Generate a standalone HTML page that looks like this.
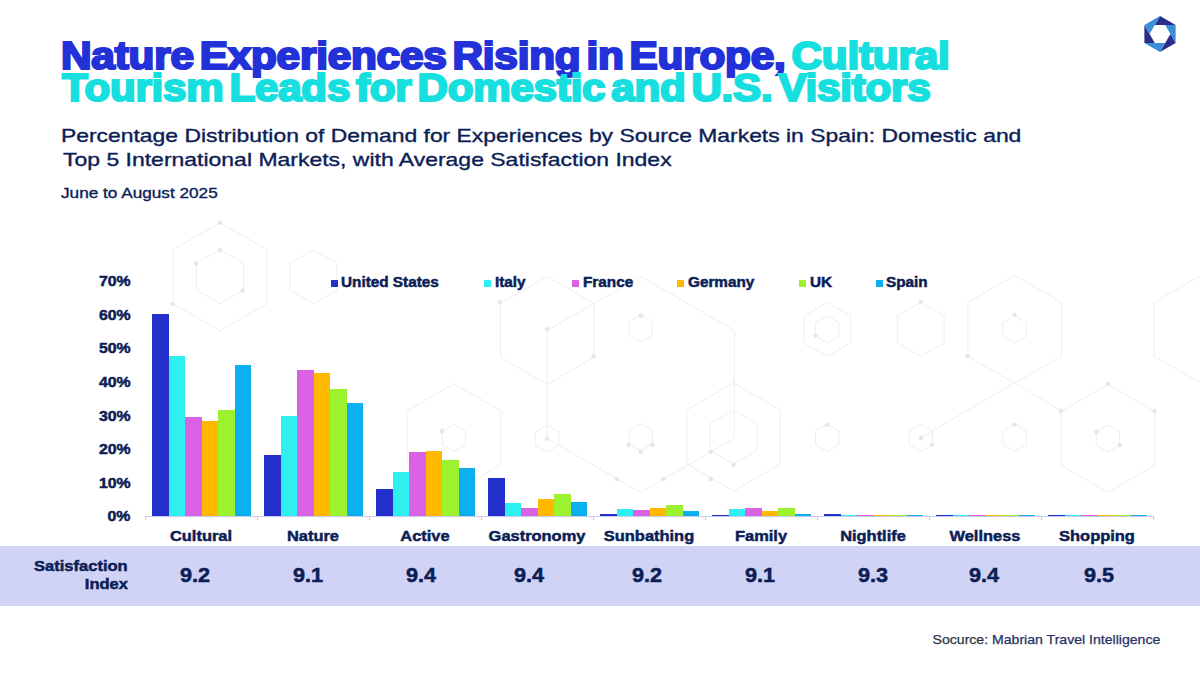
<!DOCTYPE html>
<html><head><meta charset="utf-8"><title>Chart</title>
<style>
html,body{margin:0;padding:0;}
body{width:1200px;height:675px;position:relative;overflow:hidden;background:#ffffff;font-family:"Liberation Sans",sans-serif;}
.t{position:absolute;white-space:nowrap;}
.b{position:absolute;}
</style></head><body>
<svg class="b" style="left:0;top:0" width="1200" height="675"><g fill="none" stroke="#eeeeee" stroke-width="1"><polygon points="1014.7,275.3 1061.5,302.3 1061.5,356.3 1014.7,383.3 967.9,356.3 967.9,302.3"/><polygon points="1014.7,315.8 1026.4,322.6 1026.4,336.1 1014.7,342.8 1003.0,336.1 1003.0,322.6"/><polygon points="827.3,302.3 850.7,315.8 850.7,342.8 827.3,356.3 803.9,342.8 803.9,315.8"/><polygon points="827.3,315.8 839.0,322.6 839.0,336.1 827.3,342.8 815.6,336.1 815.6,322.6"/><polygon points="920.8,302.3 944.2,315.8 944.2,342.8 920.8,356.3 897.4,342.8 897.4,315.8"/><polygon points="1201.0,275.3 1247.8,302.3 1247.8,356.3 1201.0,383.3 1154.2,356.3 1154.2,302.3"/><polygon points="1107.9,384.4 1154.7,411.4 1154.7,465.4 1107.9,492.4 1061.1,465.4 1061.1,411.4"/><polygon points="1107.9,424.9 1119.6,431.6 1119.6,445.1 1107.9,451.9 1096.2,445.1 1096.2,431.6"/><polygon points="1014.7,424.3 1026.4,431.1 1026.4,444.6 1014.7,451.3 1003.0,444.6 1003.0,431.1"/><polygon points="920.8,424.3 932.5,431.1 932.5,444.6 920.8,451.3 909.1,444.6 909.1,431.1"/><polygon points="827.3,424.3 839.0,431.1 839.0,444.6 827.3,451.3 815.6,444.6 815.6,431.1"/><polygon points="220.0,222.7 266.8,249.7 266.8,303.7 220.0,330.7 173.2,303.7 173.2,249.7"/><polygon points="220.0,249.7 243.4,263.2 243.4,290.2 220.0,303.7 196.6,290.2 196.6,263.2"/><polygon points="313.3,249.7 336.7,263.2 336.7,290.2 313.3,303.7 289.9,290.2 289.9,263.2"/><polygon points="453.9,383.8 500.7,410.8 500.7,464.8 453.9,491.8 407.1,464.8 407.1,410.8"/><polygon points="453.9,424.3 465.6,431.1 465.6,444.6 453.9,451.3 442.2,444.6 442.2,431.1"/><polygon points="547.2,276.4 594.0,303.4 594.0,357.4 547.2,384.4 500.5,357.4 500.5,303.4"/><polygon points="640.8,276.5 734.3,330.5 734.3,438.5 640.8,492.5 547.2,438.5 547.2,330.5"/><polygon points="640.8,315.0 652.4,321.8 652.4,335.2 640.8,342.0 629.1,335.2 629.1,321.8"/><polygon points="640.8,423.5 652.4,430.2 652.4,443.8 640.8,450.5 629.1,443.8 629.1,430.2"/><polygon points="547.0,425.2 558.7,432.0 558.7,445.5 547.0,452.2 535.3,445.5 535.3,432.0"/><polygon points="733.5,383.0 780.3,410.0 780.3,464.0 733.5,491.0 686.7,464.0 686.7,410.0"/><polygon points="733.5,410.0 756.9,423.5 756.9,450.5 733.5,464.0 710.1,450.5 710.1,423.5"/><line x1="1014.7" y1="382.7" x2="1061" y2="411"/><line x1="1014.7" y1="382.7" x2="920.8" y2="437.8"/></g><g fill="#e6e6e6"><circle cx="815.6" cy="335.7" r="2.2"/><circle cx="920.8" cy="302" r="2.2"/><circle cx="1014.7" cy="315" r="2.2"/><circle cx="967.4" cy="356" r="2.2"/><circle cx="1061" cy="411" r="2.2"/><circle cx="1154.5" cy="411" r="2.2"/><circle cx="1107.9" cy="383.8" r="2.2"/><circle cx="1096.5" cy="431.8" r="2.2"/><circle cx="1119.6" cy="445" r="2.2"/><circle cx="1014.7" cy="424.6" r="2.2"/><circle cx="920.8" cy="437.8" r="2.2"/><circle cx="932" cy="445" r="2.2"/><circle cx="827.3" cy="424.6" r="2.2"/><circle cx="220" cy="222.7" r="2.2"/><circle cx="172.7" cy="304" r="2.2"/><circle cx="196" cy="263.3" r="2.2"/><circle cx="242.7" cy="290.7" r="2.2"/><circle cx="220" cy="250" r="2.2"/><circle cx="442" cy="431" r="2.2"/><circle cx="500" cy="302" r="2.2"/><circle cx="547" cy="329" r="2.2"/><circle cx="593.5" cy="356.5" r="2.2"/><circle cx="640.75" cy="315.5" r="2.2"/><circle cx="628.5" cy="445" r="2.2"/><circle cx="652.3" cy="445" r="2.2"/><circle cx="640.75" cy="451.7" r="2.2"/><circle cx="710.75" cy="451.7" r="2.2"/><circle cx="733.5" cy="465" r="2.2"/><circle cx="710.75" cy="479" r="2.2"/><circle cx="663.5" cy="479" r="2.2"/><circle cx="617" cy="479" r="2.2"/><circle cx="547" cy="438.75" r="2.2"/></g></svg>
<div class="t" style="left:60.50px;top:37.03px;font-size:38px;line-height:38px;font-weight:bold;color:#2232d8;transform:scaleX(1.1135);transform-origin:left top;letter-spacing:-0.2px;word-spacing:-5px;-webkit-text-stroke:2.2px #2232d8;">Nature Experiences Rising in Europe, <span style="color:#17dfe0;-webkit-text-stroke:2.2px #17dfe0">Cultural</span></div>
<div class="t" style="left:61.50px;top:69.03px;font-size:38px;line-height:38px;font-weight:bold;color:#17dfe0;transform:scaleX(1.1086);transform-origin:left top;letter-spacing:-0.2px;word-spacing:-5px;-webkit-text-stroke:2.2px #17dfe0;">Tourism Leads for Domestic and U.S. Visitors</div>
<div class="t" style="left:61.00px;top:127.04px;font-size:18.5px;line-height:18.5px;font-weight:normal;color:#0c1e56;transform:scaleX(1.237);transform-origin:left top;-webkit-text-stroke:0.35px #0c1e56;">Percentage Distribution of Demand for Experiences by Source Markets in Spain: Domestic and</div>
<div class="t" style="left:63.00px;top:150.74px;font-size:18.5px;line-height:18.5px;font-weight:normal;color:#0c1e56;transform:scaleX(1.2416);transform-origin:left top;-webkit-text-stroke:0.35px #0c1e56;">Top 5 International Markets, with Average Satisfaction Index</div>
<div class="t" style="left:61.00px;top:186.23px;font-size:14.5px;line-height:14.5px;font-weight:normal;color:#0c1e56;transform:scaleX(1.185);transform-origin:left top;-webkit-text-stroke:0.35px #0c1e56;">June to August 2025</div>
<div class="b" style="left:331px;top:279.5px;width:7px;height:7.5px;background:#2430cc"></div>
<div class="t" style="left:341.20px;top:274.73px;font-size:14.5px;line-height:14.5px;font-weight:bold;color:#0c1e56;transform:scaleX(1.055);transform-origin:left top;-webkit-text-stroke:0.5px #0c1e56;">United States</div>
<div class="b" style="left:484px;top:279.5px;width:7px;height:7.5px;background:#2ef0f0"></div>
<div class="t" style="left:495.20px;top:274.73px;font-size:14.5px;line-height:14.5px;font-weight:bold;color:#0c1e56;transform:scaleX(1.055);transform-origin:left top;-webkit-text-stroke:0.5px #0c1e56;">Italy</div>
<div class="b" style="left:572px;top:279.5px;width:7px;height:7.5px;background:#da62e3"></div>
<div class="t" style="left:582.60px;top:274.73px;font-size:14.5px;line-height:14.5px;font-weight:bold;color:#0c1e56;transform:scaleX(1.055);transform-origin:left top;-webkit-text-stroke:0.5px #0c1e56;">France</div>
<div class="b" style="left:677px;top:279.5px;width:7px;height:7.5px;background:#ffb800"></div>
<div class="t" style="left:687.60px;top:274.73px;font-size:14.5px;line-height:14.5px;font-weight:bold;color:#0c1e56;transform:scaleX(1.055);transform-origin:left top;-webkit-text-stroke:0.5px #0c1e56;">Germany</div>
<div class="b" style="left:799px;top:279.5px;width:7px;height:7.5px;background:#9cf22e"></div>
<div class="t" style="left:809.60px;top:274.73px;font-size:14.5px;line-height:14.5px;font-weight:bold;color:#0c1e56;transform:scaleX(1.055);transform-origin:left top;-webkit-text-stroke:0.5px #0c1e56;">UK</div>
<div class="b" style="left:876px;top:279.5px;width:7px;height:7.5px;background:#0db0ee"></div>
<div class="t" style="left:886.20px;top:274.73px;font-size:14.5px;line-height:14.5px;font-weight:bold;color:#0c1e56;transform:scaleX(1.055);transform-origin:left top;-webkit-text-stroke:0.5px #0c1e56;">Spain</div>
<div class="t" style="right:1069.50px;top:509.47px;font-size:14.8px;line-height:14.8px;font-weight:bold;color:#0c1e56;transform:scaleX(1.07);transform-origin:right top;-webkit-text-stroke:0.5px #0c1e56;">0%</div>
<div class="t" style="right:1069.50px;top:475.83px;font-size:14.8px;line-height:14.8px;font-weight:bold;color:#0c1e56;transform:scaleX(1.07);transform-origin:right top;-webkit-text-stroke:0.5px #0c1e56;">10%</div>
<div class="t" style="right:1069.50px;top:442.19px;font-size:14.8px;line-height:14.8px;font-weight:bold;color:#0c1e56;transform:scaleX(1.07);transform-origin:right top;-webkit-text-stroke:0.5px #0c1e56;">20%</div>
<div class="t" style="right:1069.50px;top:408.55px;font-size:14.8px;line-height:14.8px;font-weight:bold;color:#0c1e56;transform:scaleX(1.07);transform-origin:right top;-webkit-text-stroke:0.5px #0c1e56;">30%</div>
<div class="t" style="right:1069.50px;top:374.91px;font-size:14.8px;line-height:14.8px;font-weight:bold;color:#0c1e56;transform:scaleX(1.07);transform-origin:right top;-webkit-text-stroke:0.5px #0c1e56;">40%</div>
<div class="t" style="right:1069.50px;top:341.27px;font-size:14.8px;line-height:14.8px;font-weight:bold;color:#0c1e56;transform:scaleX(1.07);transform-origin:right top;-webkit-text-stroke:0.5px #0c1e56;">50%</div>
<div class="t" style="right:1069.50px;top:307.63px;font-size:14.8px;line-height:14.8px;font-weight:bold;color:#0c1e56;transform:scaleX(1.07);transform-origin:right top;-webkit-text-stroke:0.5px #0c1e56;">60%</div>
<div class="t" style="right:1069.50px;top:273.99px;font-size:14.8px;line-height:14.8px;font-weight:bold;color:#0c1e56;transform:scaleX(1.07);transform-origin:right top;-webkit-text-stroke:0.5px #0c1e56;">70%</div>
<div class="b" style="left:145.0px;top:515.6px;width:1008px;height:1px;background:#c6cbec"></div>
<div class="b" style="left:144.5px;top:516px;width:1px;height:4px;background:#c6cbec"></div>
<div class="b" style="left:256.5px;top:516px;width:1px;height:4px;background:#c6cbec"></div>
<div class="b" style="left:368.5px;top:516px;width:1px;height:4px;background:#c6cbec"></div>
<div class="b" style="left:480.5px;top:516px;width:1px;height:4px;background:#c6cbec"></div>
<div class="b" style="left:592.5px;top:516px;width:1px;height:4px;background:#c6cbec"></div>
<div class="b" style="left:704.5px;top:516px;width:1px;height:4px;background:#c6cbec"></div>
<div class="b" style="left:816.5px;top:516px;width:1px;height:4px;background:#c6cbec"></div>
<div class="b" style="left:928.5px;top:516px;width:1px;height:4px;background:#c6cbec"></div>
<div class="b" style="left:1040.5px;top:516px;width:1px;height:4px;background:#c6cbec"></div>
<div class="b" style="left:1152.5px;top:516px;width:1px;height:4px;background:#c6cbec"></div>
<div class="b" style="left:152.00px;top:314.16px;width:16.5px;height:201.84px;background:#2430cc"></div>
<div class="b" style="left:168.50px;top:355.87px;width:16.5px;height:160.13px;background:#2ef0f0"></div>
<div class="b" style="left:185.00px;top:417.10px;width:16.5px;height:98.90px;background:#da62e3"></div>
<div class="b" style="left:201.50px;top:421.14px;width:16.5px;height:94.86px;background:#ffb800"></div>
<div class="b" style="left:218.00px;top:410.03px;width:16.5px;height:105.97px;background:#9cf22e"></div>
<div class="b" style="left:234.50px;top:365.29px;width:16.5px;height:150.71px;background:#0db0ee"></div>
<div class="b" style="left:264.00px;top:455.11px;width:16.5px;height:60.89px;background:#2430cc"></div>
<div class="b" style="left:280.50px;top:415.75px;width:16.5px;height:100.25px;background:#2ef0f0"></div>
<div class="b" style="left:297.00px;top:370.00px;width:16.5px;height:146.00px;background:#da62e3"></div>
<div class="b" style="left:313.50px;top:373.03px;width:16.5px;height:142.97px;background:#ffb800"></div>
<div class="b" style="left:330.00px;top:388.84px;width:16.5px;height:127.16px;background:#9cf22e"></div>
<div class="b" style="left:346.50px;top:403.31px;width:16.5px;height:112.69px;background:#0db0ee"></div>
<div class="b" style="left:376.00px;top:489.09px;width:16.5px;height:26.91px;background:#2430cc"></div>
<div class="b" style="left:392.50px;top:471.93px;width:16.5px;height:44.07px;background:#2ef0f0"></div>
<div class="b" style="left:409.00px;top:452.08px;width:16.5px;height:63.92px;background:#da62e3"></div>
<div class="b" style="left:425.50px;top:451.07px;width:16.5px;height:64.93px;background:#ffb800"></div>
<div class="b" style="left:442.00px;top:460.16px;width:16.5px;height:55.84px;background:#9cf22e"></div>
<div class="b" style="left:458.50px;top:468.23px;width:16.5px;height:47.77px;background:#0db0ee"></div>
<div class="b" style="left:488.00px;top:477.99px;width:16.5px;height:38.01px;background:#2430cc"></div>
<div class="b" style="left:504.50px;top:502.88px;width:16.5px;height:13.12px;background:#2ef0f0"></div>
<div class="b" style="left:521.00px;top:507.93px;width:16.5px;height:8.07px;background:#da62e3"></div>
<div class="b" style="left:537.50px;top:498.84px;width:16.5px;height:17.16px;background:#ffb800"></div>
<div class="b" style="left:554.00px;top:494.13px;width:16.5px;height:21.87px;background:#9cf22e"></div>
<div class="b" style="left:570.50px;top:501.87px;width:16.5px;height:14.13px;background:#0db0ee"></div>
<div class="b" style="left:600.00px;top:513.98px;width:16.5px;height:2.02px;background:#2430cc"></div>
<div class="b" style="left:616.50px;top:508.94px;width:16.5px;height:7.06px;background:#2ef0f0"></div>
<div class="b" style="left:633.00px;top:509.94px;width:16.5px;height:6.06px;background:#da62e3"></div>
<div class="b" style="left:649.50px;top:507.93px;width:16.5px;height:8.07px;background:#ffb800"></div>
<div class="b" style="left:666.00px;top:504.90px;width:16.5px;height:11.10px;background:#9cf22e"></div>
<div class="b" style="left:682.50px;top:510.95px;width:16.5px;height:5.05px;background:#0db0ee"></div>
<div class="b" style="left:712.00px;top:514.99px;width:16.5px;height:1.01px;background:#2430cc"></div>
<div class="b" style="left:728.50px;top:508.94px;width:16.5px;height:7.06px;background:#2ef0f0"></div>
<div class="b" style="left:745.00px;top:507.93px;width:16.5px;height:8.07px;background:#da62e3"></div>
<div class="b" style="left:761.50px;top:510.95px;width:16.5px;height:5.05px;background:#ffb800"></div>
<div class="b" style="left:778.00px;top:507.93px;width:16.5px;height:8.07px;background:#9cf22e"></div>
<div class="b" style="left:794.50px;top:513.98px;width:16.5px;height:2.02px;background:#0db0ee"></div>
<div class="b" style="left:824.00px;top:513.98px;width:16.5px;height:2.02px;background:#2430cc"></div>
<div class="b" style="left:840.50px;top:515.16px;width:16.5px;height:0.84px;background:#2ef0f0"></div>
<div class="b" style="left:857.00px;top:515.16px;width:16.5px;height:0.84px;background:#da62e3"></div>
<div class="b" style="left:873.50px;top:515.16px;width:16.5px;height:0.84px;background:#ffb800"></div>
<div class="b" style="left:890.00px;top:515.16px;width:16.5px;height:0.84px;background:#9cf22e"></div>
<div class="b" style="left:906.50px;top:515.16px;width:16.5px;height:0.84px;background:#0db0ee"></div>
<div class="b" style="left:936.00px;top:515.33px;width:16.5px;height:0.67px;background:#2430cc"></div>
<div class="b" style="left:952.50px;top:515.33px;width:16.5px;height:0.67px;background:#2ef0f0"></div>
<div class="b" style="left:969.00px;top:515.33px;width:16.5px;height:0.67px;background:#da62e3"></div>
<div class="b" style="left:985.50px;top:515.33px;width:16.5px;height:0.67px;background:#ffb800"></div>
<div class="b" style="left:1002.00px;top:515.33px;width:16.5px;height:0.67px;background:#9cf22e"></div>
<div class="b" style="left:1018.50px;top:515.33px;width:16.5px;height:0.67px;background:#0db0ee"></div>
<div class="b" style="left:1048.00px;top:515.33px;width:16.5px;height:0.67px;background:#2430cc"></div>
<div class="b" style="left:1064.50px;top:515.33px;width:16.5px;height:0.67px;background:#2ef0f0"></div>
<div class="b" style="left:1081.00px;top:515.33px;width:16.5px;height:0.67px;background:#da62e3"></div>
<div class="b" style="left:1097.50px;top:515.33px;width:16.5px;height:0.67px;background:#ffb800"></div>
<div class="b" style="left:1114.00px;top:515.33px;width:16.5px;height:0.67px;background:#9cf22e"></div>
<div class="b" style="left:1130.50px;top:515.33px;width:16.5px;height:0.67px;background:#0db0ee"></div>
<div class="t" style="left:-99.00px;width:600px;text-align:center;top:527.85px;font-size:15.3px;line-height:15.3px;font-weight:bold;color:#0c1e56;transform:scaleX(1.074);transform-origin:center top;-webkit-text-stroke:0.5px #0c1e56;">Cultural</div>
<div class="t" style="left:13.00px;width:600px;text-align:center;top:527.85px;font-size:15.3px;line-height:15.3px;font-weight:bold;color:#0c1e56;transform:scaleX(1.074);transform-origin:center top;-webkit-text-stroke:0.5px #0c1e56;">Nature</div>
<div class="t" style="left:125.00px;width:600px;text-align:center;top:527.85px;font-size:15.3px;line-height:15.3px;font-weight:bold;color:#0c1e56;transform:scaleX(1.074);transform-origin:center top;-webkit-text-stroke:0.5px #0c1e56;">Active</div>
<div class="t" style="left:237.00px;width:600px;text-align:center;top:527.85px;font-size:15.3px;line-height:15.3px;font-weight:bold;color:#0c1e56;transform:scaleX(1.074);transform-origin:center top;-webkit-text-stroke:0.5px #0c1e56;">Gastronomy</div>
<div class="t" style="left:349.00px;width:600px;text-align:center;top:527.85px;font-size:15.3px;line-height:15.3px;font-weight:bold;color:#0c1e56;transform:scaleX(1.074);transform-origin:center top;-webkit-text-stroke:0.5px #0c1e56;">Sunbathing</div>
<div class="t" style="left:461.00px;width:600px;text-align:center;top:527.85px;font-size:15.3px;line-height:15.3px;font-weight:bold;color:#0c1e56;transform:scaleX(1.074);transform-origin:center top;-webkit-text-stroke:0.5px #0c1e56;">Family</div>
<div class="t" style="left:573.00px;width:600px;text-align:center;top:527.85px;font-size:15.3px;line-height:15.3px;font-weight:bold;color:#0c1e56;transform:scaleX(1.074);transform-origin:center top;-webkit-text-stroke:0.5px #0c1e56;">Nightlife</div>
<div class="t" style="left:685.00px;width:600px;text-align:center;top:527.85px;font-size:15.3px;line-height:15.3px;font-weight:bold;color:#0c1e56;transform:scaleX(1.074);transform-origin:center top;-webkit-text-stroke:0.5px #0c1e56;">Wellness</div>
<div class="t" style="left:797.00px;width:600px;text-align:center;top:527.85px;font-size:15.3px;line-height:15.3px;font-weight:bold;color:#0c1e56;transform:scaleX(1.074);transform-origin:center top;-webkit-text-stroke:0.5px #0c1e56;">Shopping</div>
<div class="b" style="left:0;top:546px;width:1200px;height:59.5px;background:#d1d3f6"></div>
<div class="t" style="right:1072.50px;top:557.85px;font-size:15.3px;line-height:15.3px;font-weight:bold;color:#0c1e56;transform:scaleX(1.08);transform-origin:right top;-webkit-text-stroke:0.5px #0c1e56;">Satisfaction</div>
<div class="t" style="right:1072.50px;top:576.05px;font-size:15.3px;line-height:15.3px;font-weight:bold;color:#0c1e56;transform:scaleX(1.08);transform-origin:right top;-webkit-text-stroke:0.5px #0c1e56;">Index</div>
<div class="t" style="left:-105.00px;width:600px;text-align:center;top:566.29px;font-size:19.5px;line-height:19.5px;font-weight:bold;color:#0c1e56;transform:scaleX(1.11);transform-origin:center top;-webkit-text-stroke:0.5px #0c1e56;">9.2</div>
<div class="t" style="left:8.00px;width:600px;text-align:center;top:566.29px;font-size:19.5px;line-height:19.5px;font-weight:bold;color:#0c1e56;transform:scaleX(1.11);transform-origin:center top;-webkit-text-stroke:0.5px #0c1e56;">9.1</div>
<div class="t" style="left:121.00px;width:600px;text-align:center;top:566.29px;font-size:19.5px;line-height:19.5px;font-weight:bold;color:#0c1e56;transform:scaleX(1.11);transform-origin:center top;-webkit-text-stroke:0.5px #0c1e56;">9.4</div>
<div class="t" style="left:229.00px;width:600px;text-align:center;top:566.29px;font-size:19.5px;line-height:19.5px;font-weight:bold;color:#0c1e56;transform:scaleX(1.11);transform-origin:center top;-webkit-text-stroke:0.5px #0c1e56;">9.4</div>
<div class="t" style="left:346.50px;width:600px;text-align:center;top:566.29px;font-size:19.5px;line-height:19.5px;font-weight:bold;color:#0c1e56;transform:scaleX(1.11);transform-origin:center top;-webkit-text-stroke:0.5px #0c1e56;">9.2</div>
<div class="t" style="left:459.50px;width:600px;text-align:center;top:566.29px;font-size:19.5px;line-height:19.5px;font-weight:bold;color:#0c1e56;transform:scaleX(1.11);transform-origin:center top;-webkit-text-stroke:0.5px #0c1e56;">9.1</div>
<div class="t" style="left:573.00px;width:600px;text-align:center;top:566.29px;font-size:19.5px;line-height:19.5px;font-weight:bold;color:#0c1e56;transform:scaleX(1.11);transform-origin:center top;-webkit-text-stroke:0.5px #0c1e56;">9.3</div>
<div class="t" style="left:684.00px;width:600px;text-align:center;top:566.29px;font-size:19.5px;line-height:19.5px;font-weight:bold;color:#0c1e56;transform:scaleX(1.11);transform-origin:center top;-webkit-text-stroke:0.5px #0c1e56;">9.4</div>
<div class="t" style="left:799.00px;width:600px;text-align:center;top:566.29px;font-size:19.5px;line-height:19.5px;font-weight:bold;color:#0c1e56;transform:scaleX(1.11);transform-origin:center top;-webkit-text-stroke:0.5px #0c1e56;">9.5</div>
<div class="t" style="right:40.00px;top:632.80px;font-size:13.0px;line-height:13.0px;font-weight:normal;color:#333333;transform:scaleX(1.083);transform-origin:right top;-webkit-text-stroke:0.25px #2a3566;">Socurce: <span style="color:#1f2f63">Mabrian Travel Intelligence</span></div>
<svg class="b" style="left:1140px;top:13.799999999999997px" width="40" height="40" viewBox="-19.5 -19.5 39 39">
<polygon fill="#2a2d8c" points="0,-17.6 15.24,-8.8 -5.08,-8.8"/>
<polygon fill="#3a8fd8" points="15.24,-8.8 15.24,8.8 5.08,-8.8"/>
<polygon fill="#2a2d8c" points="15.24,8.8 0,17.6 10.16,0"/>
<polygon fill="#3a8fd8" points="0,17.6 -15.24,8.8 5.08,8.8"/>
<polygon fill="#2a2d8c" points="-15.24,8.8 -15.24,-8.8 -5.08,8.8"/>
<polygon fill="#3a8fd8" points="-15.24,-8.8 0,-17.6 -10.16,0"/>
</svg>
</body></html>
